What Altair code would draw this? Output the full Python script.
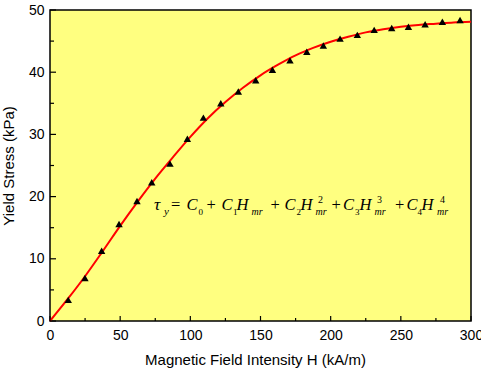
import altair as alt
import pandas as pd

# measured data (triangles)
H_points = [13.0, 24.9, 36.8, 49.2, 62.0, 72.5, 85.5, 97.9, 109.3, 121.7, 134.2, 146.6,
            158.5, 171.0, 183.0, 194.8, 206.7, 219.0, 231.0, 243.5, 255.4, 267.3, 279.6, 292.2]
stress_points = [3.4, 6.9, 11.3, 15.6, 19.3, 22.3, 25.3, 29.3, 32.7, 35.0, 36.9, 38.7,
                 40.4, 41.9, 43.3, 44.3, 45.4, 46.0, 46.8, 47.1, 47.3, 47.7, 48.1, 48.4]

# fitted curve (red line)
H_fit = [0, 12.5, 25, 37.5, 50, 62.5, 75, 87.5, 100, 112.5, 125, 137.5, 150, 162.5, 175,
         187.5, 200, 212.5, 225, 237.5, 250, 262.5, 275, 287.5, 300]
stress_fit = [0, 3.5, 7.2, 11.2, 15.3, 19.2, 22.9, 26.3, 29.6, 32.6, 35.2, 37.5, 39.5, 41.2,
              42.7, 43.9, 44.9, 45.7, 46.4, 46.9, 47.3, 47.6, 47.8, 48.0, 48.1]

x_major = [0, 50, 100, 150, 200, 250, 300]
x_minor = [25, 75, 125, 175, 225, 275]
y_major = [0, 10, 20, 30, 40, 50]
y_minor = [5, 15, 25, 35, 45]

W, HGT = 421, 311
LEFT, TOP = 50, 10

xs = alt.Scale(domain=[0, 300], nice=False, zero=False)
ys = alt.Scale(domain=[0, 50], nice=False, zero=False)

pts = pd.DataFrame({"H": H_points, "S": stress_points})
fit = pd.DataFrame({"H": H_fit, "S": stress_fit})

line = alt.Chart(fit).mark_line(color="#FF0000", strokeWidth=2, interpolate="monotone").encode(
    x=alt.X("H:Q", scale=xs, axis=alt.Axis(values=x_major, ticks=False, domain=False, grid=False,
            labelFont="Liberation Sans", labelFontSize=14, labelColor="black", labelPadding=7,
            title="Magnetic Field Intensity H (kA/m)", titleFont="Liberation Sans",
            titleFontSize=15, titleFontWeight="normal", titleColor="black", titlePadding=10,
            titleX=205, labelFlush=False)),
    y=alt.Y("S:Q", scale=ys, axis=alt.Axis(values=y_major, ticks=False, domain=False, grid=False,
            labelFont="Liberation Sans", labelFontSize=14, labelColor="black", labelPadding=6,
            title="Yield Stress (kPa)", titleFont="Liberation Sans", titleFontSize=15,
            titleFontWeight="normal", titleColor="black", titlePadding=12, labelFlush=False)),
)

tri = alt.Chart(pts).mark_point(shape="triangle-up", filled=True, color="black", size=55, opacity=1).encode(
    x=alt.X("H:Q", scale=xs), y=alt.Y("S:Q", scale=ys)
)

def xticks(vals, length):
    return alt.Chart(pd.DataFrame({"v": vals})).mark_rule(color="black", strokeWidth=1.2).encode(
        x=alt.X("v:Q", scale=xs), y=alt.value(HGT), y2=alt.value(HGT - length))

def yticks(vals, length):
    return alt.Chart(pd.DataFrame({"v": vals})).mark_rule(color="black", strokeWidth=1.2).encode(
        y=alt.Y("v:Q", scale=ys), x=alt.value(0), x2=alt.value(length))

# equation pieces: (text, page x, page baseline y, size, style)
MAIN, SUB, SUP = 210, 215, 203
M, D, R = 16.5, 9, 10
eq = [
    ("τ", 154, MAIN, M + 1, "italic"), ("y", 164, SUB, R + 1, "italic"), ("=", 171, MAIN, M, "normal"),
    ("C", 186.5, MAIN, M, "italic"), ("0", 198.5, SUB, D, "normal"), ("+", 206.5, MAIN, M, "normal"),
    ("C", 221.5, MAIN, M, "italic"), ("1", 233, SUB, D, "normal"), ("H", 236.5, MAIN, M, "italic"),
    ("mr", 251.5, SUB, R, "italic"), ("+", 270.5, MAIN, M, "normal"),
    ("C", 284.5, MAIN, M, "italic"), ("2", 296.5, SUB, D, "normal"), ("H", 300.5, MAIN, M, "italic"),
    ("2", 318, SUP, D + 1, "normal"), ("mr", 315.5, SUB, R, "italic"), ("+", 331.5, MAIN, M, "normal"),
    ("C", 343, MAIN, M, "italic"), ("3", 355, SUB, D, "normal"), ("H", 359.5, MAIN, M, "italic"),
    ("3", 377, SUP, D + 1, "normal"), ("mr", 374.5, SUB, R, "italic"), ("+", 395, MAIN, M, "normal"),
    ("C", 406.5, MAIN, M, "italic"), ("4", 417.5, SUB, D, "normal"), ("H", 421.5, MAIN, M, "italic"),
    ("4", 440, SUP, D + 1, "normal"), ("mr", 437, SUB, R, "italic"),
]
eq_layers = []
for t, px, py, sz, st in eq:
    eq_layers.append(
        alt.Chart(pd.DataFrame({"a": [0]})).mark_text(
            text=t, font="Liberation Serif", fontSize=sz, fontStyle=st, color="black",
            align="left", baseline="alphabetic"
        ).encode(x=alt.value(px - LEFT), y=alt.value(py - TOP))
    )

chart = alt.layer(
    line, tri,
    xticks(x_major, 5), xticks(x_minor, 3), yticks(y_major, 6), yticks(y_minor, 4),
    *eq_layers
).properties(
    width=W, height=HGT,
    autosize=alt.AutoSizeParams(type="none"),
    padding={"left": LEFT, "top": TOP, "right": 10, "bottom": 48},
    background="white",
).configure_view(
    fill="#FFFF80", stroke="black", strokeWidth=1.5
)

chart.save("out.html", embed_options={"renderer": "svg", "actions": False})
